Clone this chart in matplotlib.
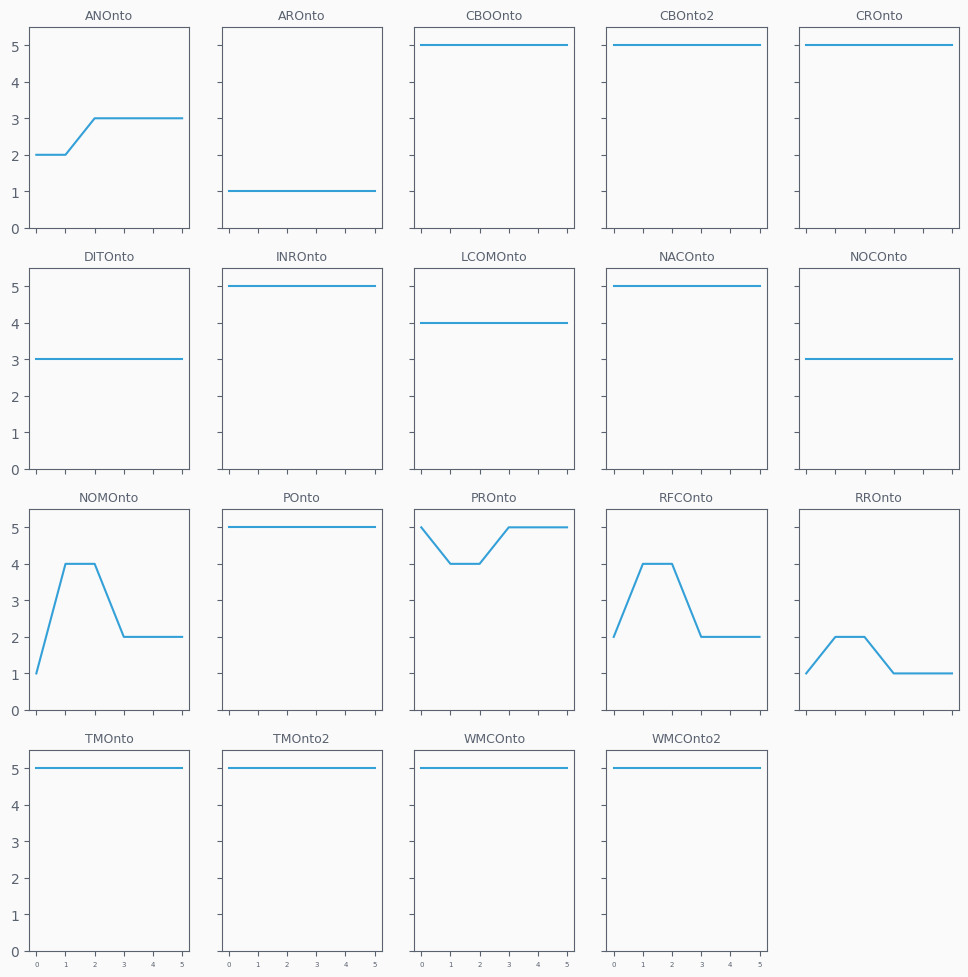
import matplotlib
matplotlib.use('Agg')
import matplotlib.pyplot as plt

# metric names and their values over 6 steps
metrics = ['ANOnto', 'AROnto', 'CBOOnto', 'CBOnto2', 'CROnto',
           'DITOnto', 'INROnto', 'LCOMOnto', 'NACOnto', 'NOCOnto',
           'NOMOnto', 'POnto', 'PROnto', 'RFCOnto', 'RROnto',
           'TMOnto', 'TMOnto2', 'WMCOnto', 'WMCOnto2']
steps = [0, 1, 2, 3, 4, 5]

an_onto = [2, 2, 3, 3, 3, 3]
ar_onto = [1, 1, 1, 1, 1, 1]
cbo_onto = [5, 5, 5, 5, 5, 5]
cb_onto2 = [5, 5, 5, 5, 5, 5]
cr_onto = [5, 5, 5, 5, 5, 5]
dit_onto = [3, 3, 3, 3, 3, 3]
inr_onto = [5, 5, 5, 5, 5, 5]
lcom_onto = [4, 4, 4, 4, 4, 4]
nac_onto = [5, 5, 5, 5, 5, 5]
noc_onto = [3, 3, 3, 3, 3, 3]
nom_onto = [1, 4, 4, 2, 2, 2]
p_onto = [5, 5, 5, 5, 5, 5]
pr_onto = [5, 4, 4, 5, 5, 5]
rfc_onto = [2, 4, 4, 2, 2, 2]
rr_onto = [1, 2, 2, 1, 1, 1]
tm_onto = [5, 5, 5, 5, 5, 5]
tm_onto2 = [5, 5, 5, 5, 5, 5]
wmc_onto = [5, 5, 5, 5, 5, 5]
wmc_onto2 = [5, 5, 5, 5, 5, 5]

values = [an_onto, ar_onto, cbo_onto, cb_onto2, cr_onto,
          dit_onto, inr_onto, lcom_onto, nac_onto, noc_onto,
          nom_onto, p_onto, pr_onto, rfc_onto, rr_onto,
          tm_onto, tm_onto2, wmc_onto, wmc_onto2]

bg = '#fafafa'
edge = '#5a6270'
line_color = '#34a0d8'

plt.rcParams['axes.edgecolor'] = edge
plt.rcParams['xtick.color'] = edge
plt.rcParams['ytick.color'] = edge

fig, axes = plt.subplots(4, 5, figsize=(9.68, 9.78), dpi=100, sharex=True, sharey=True)
fig.patch.set_facecolor(bg)
fig.subplots_adjust(left=0.030, right=0.991, top=0.9714, bottom=0.0266,
                    wspace=0.2, hspace=0.2)

flat = axes.flatten()
for i, ax in enumerate(flat):
    if i >= len(metrics):
        ax.remove()
        continue
    ax.set_facecolor(bg)
    ax.plot(steps, values[i], color=line_color, linewidth=1.5)
    ax.set_title(metrics[i], fontsize=9, color=edge)
    ax.set_ylim(0, 5.5)
    ax.set_xticks(steps)
    ax.set_yticks([0, 1, 2, 3, 4, 5])
    ax.tick_params(axis='x', labelsize=5)
    ax.tick_params(axis='y', labelsize=10)

# bottom row of column 5 removed, so the one above keeps no labels
flat[14].tick_params(labelbottom=False)

fig.savefig('out.png', dpi=100, facecolor=bg)
